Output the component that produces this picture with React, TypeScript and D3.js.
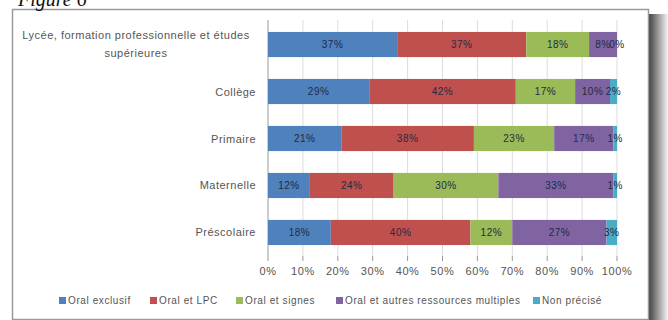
import React from "react";
import * as d3 from "d3";

const categories = [
  "Lycée, formation professionnelle et études supérieures",
  "Collège",
  "Primaire",
  "Maternelle",
  "Préscolaire",
];
const series = [
  "Oral exclusif",
  "Oral et LPC",
  "Oral et signes",
  "Oral et autres ressources multiples",
  "Non précisé",
];
const oralExclusif = [37, 29, 21, 12, 18];
const oralLPC = [37, 42, 38, 24, 40];
const oralSignes = [18, 17, 23, 30, 12];
const oralAutres = [8, 10, 17, 33, 27];
const nonPrecise = [0, 2, 1, 1, 3];
const xTicks = [0, 10, 20, 30, 40, 50, 60, 70, 80, 90, 100];

const colors = ["#4F81BD", "#C0504D", "#9BBB59", "#8064A2", "#4BACC6"];
const values = [oralExclusif, oralLPC, oralSignes, oralAutres, nonPrecise];

export default function App() {
  const W = 668, H = 320;
  const x = d3.scaleLinear().domain([0, 100]).range([268, 617]);
  const y = d3.scaleBand().domain(categories).range([21, 256]).paddingInner(0.465).paddingOuter(0.233);
  const rows = categories.map((c, i) => {
    let acc = 0;
    return values.map((s, k) => {
      const v = s[i];
      const seg = { k, x0: acc, x1: acc + v, v };
      acc += v;
      return seg;
    });
  });
  const font = "Liberation Sans, Arial, sans-serif";
  const legendX = [59, 150, 236, 336, 533];
  return (
    <svg width={W} height={H} style={{ position: "absolute", left: 0, top: 0, background: "#fff" }}>
      <defs>
        <linearGradient id="shadow" x1="0" x2="1" y1="0" y2="0">
          <stop offset="0" stopColor="#444" />
          <stop offset="1" stopColor="#f4f4f4" />
        </linearGradient>
      </defs>
      <rect x={0} y={0} width={W} height={H} fill="#fff" />
      <rect x={649} y={14} width={19} height={306} fill="url(#shadow)" />
      <rect x={12.5} y={9.5} width={636} height={310} fill="#fff" stroke="#9a9a9a" strokeWidth={1.5} />
      <text x={18} y={6} fontFamily="Liberation Serif, serif" fontStyle="italic" fontSize={20} fill="#111">Figure 6</text>
      {xTicks.map((t) => (
        <line key={t} x1={x(t)} x2={x(t)} y1={20} y2={256} stroke={t === 0 ? "#999" : "#dcdcdc"} strokeWidth={1} />
      ))}
      {xTicks.map((t) => (
        <g key={"t" + t}>
          <line x1={x(t)} x2={x(t)} y1={256} y2={261} stroke="#999" />
          <text x={x(t)} y={275} textAnchor="middle" fontFamily={font} fontSize={11} letterSpacing={0.6} fill="#555">{t}%</text>
        </g>
      ))}
      {categories.map((c, i) => (
        <g key={c}>
          {rows[i].map((s) => (
            <rect key={s.k} x={x(s.x0)} y={y(c)!} width={x(s.x1) - x(s.x0)} height={y.bandwidth()} fill={colors[s.k]} />
          ))}
          {rows[i].map((s) => (
            <text key={"l" + s.k} x={(x(s.x0) + x(s.x1)) / 2} y={y(c)! + y.bandwidth() / 2 + 3.5} textAnchor="middle" fontFamily={font} fontSize={10} letterSpacing={0.5} fill="#1f2a44">{s.v}%</text>
          ))}
        </g>
      ))}
      <text y={39} textAnchor="middle" fontFamily={font} fontSize={11} letterSpacing={0.5} fill="#555">
        <tspan x={136}>Lycée, formation professionnelle et études</tspan>
        <tspan x={136} dy={18}>supérieures</tspan>
      </text>
      {categories.slice(1).map((c) => (
        <text key={c} x={256} y={y(c)! + y.bandwidth() / 2 + 4} textAnchor="end" fontFamily={font} fontSize={11} letterSpacing={0.5} fill="#555">{c}</text>
      ))}
      {series.map((s, k) => (
        <g key={s}>
          <rect x={legendX[k]} y={297} width={7} height={7} fill={colors[k]} />
          <text x={legendX[k] + 9} y={304} fontFamily={font} fontSize={10} letterSpacing={0.6} fill="#555">{s}</text>
        </g>
      ))}
    </svg>
  );
}
